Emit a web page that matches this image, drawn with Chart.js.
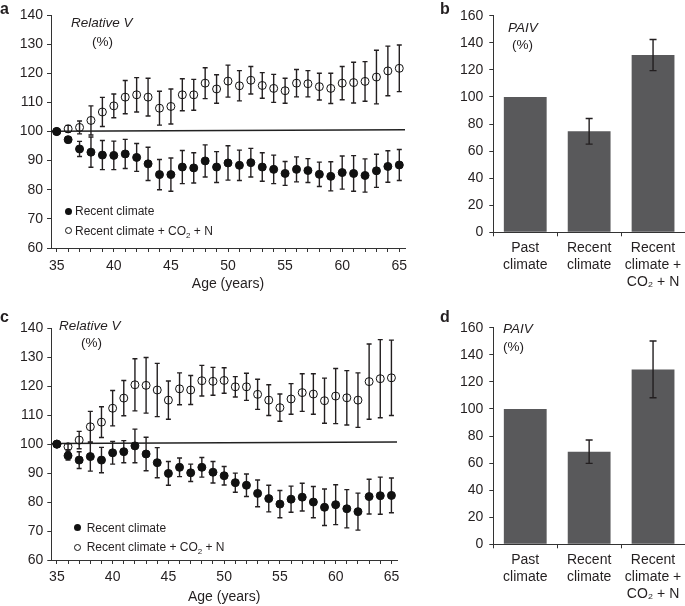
<!DOCTYPE html>
<html>
<head>
<meta charset="utf-8">
<script src="https://cdn.jsdelivr.net/npm/chart.js@4.4.1/dist/chart.umd.min.js"></script>
<style>
  body { margin: 0; background: #fff; }
  #fig { position: relative; width: 685px; height: 606px; font-family: "Liberation Sans", Arial, sans-serif; color: #231f20; overflow: hidden; background: #fff; }
  .box { position: absolute; }
  .lbl { position: absolute; line-height: 1; white-space: nowrap; }
  .panel { font-weight: bold; font-size: 16px; }
  .ital { font-style: italic; font-size: 13.5px; }
  .pct { font-size: 13.5px; }
  .leg { font-size: 12px; }
  .dot { position: absolute; width: 7px; height: 7px; border-radius: 50%; background: #111; }
  .ring { position: absolute; width: 5px; height: 5px; border-radius: 50%; border: 1px solid #111; }
  sub { font-size: 8px; line-height: 0; vertical-align: -3px; }
</style>
</head>
<body>
<div id="fig">
  <div class="box" style="left:0;top:0;width:430px;height:300px"><canvas id="chartA"></canvas></div>
  <div class="box" style="left:440px;top:0;width:245px;height:300px"><canvas id="chartB"></canvas></div>
  <div class="box" style="left:0;top:300px;width:430px;height:306px"><canvas id="chartC"></canvas></div>
  <div class="box" style="left:440px;top:300px;width:245px;height:306px"><canvas id="chartD"></canvas></div>

  <!-- panel letters -->
  <span class="lbl panel" style="left:0;top:0.5px">a</span>
  <span class="lbl panel" style="left:440px;top:0.5px">b</span>
  <span class="lbl panel" style="left:0;top:308.5px">c</span>
  <span class="lbl panel" style="left:440px;top:308.5px">d</span>

  <!-- axis titles inside the plots -->
  <span class="lbl ital" style="left:71px;top:16px">Relative V</span>
  <span class="lbl pct" style="left:92px;top:35px">(%)</span>
  <span class="lbl ital" style="left:59px;top:318.5px">Relative V</span>
  <span class="lbl pct" style="left:81px;top:336px">(%)</span>
  <span class="lbl ital" style="left:508px;top:20.5px">PAIV</span>
  <span class="lbl pct" style="left:512px;top:38px">(%)</span>
  <span class="lbl ital" style="left:503px;top:321.5px">PAIV</span>
  <span class="lbl pct" style="left:503px;top:340px">(%)</span>

  <!-- legends -->
  <span class="dot" style="left:64.8px;top:207.5px"></span>
  <span class="lbl leg" style="left:75px;top:205.4px">Recent climate</span>
  <span class="ring" style="left:64.8px;top:227.2px"></span>
  <span class="lbl leg" style="left:75px;top:225px">Recent climate + CO<sub>2</sub> + N</span>

  <span class="dot" style="left:73.8px;top:524.2px"></span>
  <span class="lbl leg" style="left:86.7px;top:522px">Recent climate</span>
  <span class="ring" style="left:73.8px;top:543.5px"></span>
  <span class="lbl leg" style="left:86.7px;top:541px">Recent climate + CO<sub>2</sub> + N</span>
</div>
<script>
// ages (years)
const ages = [35, 36, 37, 38, 39, 40, 41, 42, 43, 44, 45, 46, 47, 48, 49, 50,
              51, 52, 53, 54, 55, 56, 57, 58, 59, 60, 61, 62, 63, 64, 65];

// panel a - relative V (%)
const aRecent    = [100, 97.2, 94.0, 92.9, 91.9, 91.8, 92.3, 91.1, 88.9, 85.2, 85.2, 87.8, 87.5, 89.9, 87.8, 89.2,
                    88.4, 89.3, 87.8, 87.0, 85.6, 87.0, 86.6, 85.3, 84.6, 85.9, 85.6, 84.9, 86.5, 88.0, 88.5];
const aRecentErr = [0, 1, 2.6, 5.2, 5, 4.9, 5, 4.8, 5.7, 5.2, 5.7, 5.7, 5.2, 5.5, 5.3, 5.9,
                    5.2, 4.9, 4.9, 4.9, 4.1, 4.3, 4.1, 4.2, 5, 5.7, 6.1, 5.7, 5.7, 5.4, 5.3];
const aCo2       = [100, 100.9, 101.4, 103.8, 106.7, 108.8, 111.8, 112.6, 111.8, 108.0, 108.6, 112.6, 112.6, 116.6, 114.6, 117.3,
                    115.7, 117.6, 115.8, 114.8, 114.0, 116.6, 116.4, 115.4, 114.8, 116.6, 116.8, 117.2, 118.7, 120.8, 121.7];
const aCo2Err    = [0, 1.2, 2.2, 5, 5, 4.1, 5.7, 5.9, 6.5, 5.8, 6, 5.5, 5.3, 5.3, 4.9, 5.5,
                    5.2, 4.7, 4.4, 4.8, 4.3, 4.7, 4.5, 4.6, 5.2, 5.7, 7, 6.8, 9.2, 8.5, 8];
const aLine      = [100.1, 100.6];

// panel c - relative V (%)
const cRecent    = [100, 96.0, 94.5, 95.7, 94.5, 97.0, 97.4, 99.4, 96.6, 93.6, 89.9, 92.0, 90.1, 92.0, 90.3, 89.1,
                    86.7, 85.8, 83.0, 81.2, 79.3, 81.0, 81.7, 80.0, 78.2, 79.1, 77.7, 76.7, 81.9, 82.2, 82.3];
const cRecentErr = [0, 1.5, 2.9, 5, 4.4, 3.9, 3.8, 5.8, 5.8, 5.2, 4.1, 3.2, 3, 3.4, 3.7, 3.2,
                    3.3, 3.9, 4.6, 4.6, 4.7, 4.5, 4.8, 5.4, 6.3, 6.9, 6.6, 6.4, 6, 6.4, 6];
const cCo2       = [100, 99.1, 101.4, 106.0, 107.6, 112.4, 115.9, 120.5, 120.3, 118.7, 115.2, 119.1, 118.7, 121.9, 121.7, 122.0,
                    119.8, 119.8, 117.2, 115.2, 112.6, 115.6, 117.8, 117.3, 115.0, 116.6, 116.0, 115.2, 121.6, 122.6, 122.9];
const cCo2Err    = [0, 1, 3, 5.3, 5.3, 6.1, 6.1, 9, 9.6, 9.2, 6.6, 5.5, 5, 5.3, 4.8, 4.4,
                    3.5, 4.7, 5.2, 5.3, 4.7, 5.3, 6.5, 7, 7.8, 9.5, 9.4, 9.4, 13, 13.5, 13];
const cLine      = [100.2, 100.7];
const lineAges   = [34.5, 65.5];

// panels b, d - PAIV (%)
const barLabels = [['Past', 'climate'], ['Recent', 'climate'], ['Recent', 'climate +', 'CO\u2082 + N']];
const bValues = [100, 74.6, 130.9];
const bErr    = [0, 9.5, 11.5];
const dValues = [100, 68.4, 129.2];
const dErr    = [0, 8.6, 21];

const ink = '#231f20';
Chart.defaults.font.family = '"Liberation Sans", Arial, sans-serif';
Chart.defaults.font.size = 14;
Chart.defaults.color = ink;

// draws vertical error bars using the chart's own scales
function errorBarPlugin(hook) {
  const draw = (chart) => {
    const ctx = chart.ctx;
    const yScale = chart.scales.y;
    chart.data.datasets.forEach((ds, i) => {
      if (!ds.errors) return;
      const meta = chart.getDatasetMeta(i);
      ctx.save();
      ctx.strokeStyle = ink;
      ctx.lineWidth = 1.4;
      meta.data.forEach((el, j) => {
        const e = ds.errors[j];
        if (!e) return;
        const v = typeof ds.data[j] === 'object' ? ds.data[j].y : ds.data[j];
        const top = yScale.getPixelForValue(v + e);
        const bot = yScale.getPixelForValue(v - e);
        const cap = ds.errorCap || 2.5;
        ctx.beginPath();
        ctx.moveTo(el.x, top); ctx.lineTo(el.x, bot);
        ctx.moveTo(el.x - cap, top); ctx.lineTo(el.x + cap, top);
        ctx.moveTo(el.x - cap, bot); ctx.lineTo(el.x + cap, bot);
        ctx.stroke();
      });
      ctx.restore();
    });
  };
  return { id: 'errorBars', [hook]: draw };
}

function axisGrid() {
  return { drawOnChartArea: false, drawTicks: true, tickLength: 4, color: '#333', lineWidth: 1 };
}

function makeScatter(id, recent, recentErr, co2, co2Err, line, cfg) {
  return new Chart(document.getElementById(id), {
    type: 'scatter',
    data: {
      datasets: [
        {
          label: 'Recent climate',
          data: ages.map((a, i) => ({ x: a, y: recent[i] })),
          errors: recentErr,
          pointRadius: 4,
          backgroundColor: '#111',
          borderColor: '#111',
          borderWidth: 1
        },
        {
          label: 'Recent climate + CO2 + N',
          data: ages.map((a, i) => ({ x: a, y: co2[i] })),
          errors: co2Err,
          pointRadius: 4,
          backgroundColor: 'rgba(255,255,255,0)',
          borderColor: '#111',
          borderWidth: 1
        },
        {
          type: 'line',
          label: 'ref',
          data: lineAges.map((a, i) => ({ x: a, y: line[i] })),
          showLine: true,
          pointRadius: 0,
          borderColor: '#222',
          borderWidth: 1.5
        }
      ]
    },
    options: {
      responsive: true,
      maintainAspectRatio: false,
      animation: false,
      layout: { padding: { top: cfg.padTop, right: cfg.padRight, left: 0, bottom: 0 } },
      plugins: { legend: { display: false }, tooltip: { enabled: false } },
      scales: {
        x: {
          type: 'linear',
          min: lineAges[0],
          max: lineAges[1],
          afterFit: (s) => { s.height = cfg.xHeight; },
          // one tick per year, labels every 5 years
          afterBuildTicks: (s) => { s.ticks = ages.map((a) => ({ value: a })); },
          grid: axisGrid(),
          border: { display: true, color: '#333', width: 1 },
          ticks: {
            autoSkip: false,
            maxRotation: 0,
            padding: cfg.tickPad,
            callback: (v) => (v % 5 === 0 ? String(v) : '')
          },
          title: { display: true, text: 'Age (years)', font: { size: 14 }, padding: { top: 0, bottom: cfg.titlePad } }
        },
        y: {
          min: 60,
          max: 140,
          afterFit: (s) => { s.width = cfg.yWidth; },
          grid: axisGrid(),
          border: { display: true, color: '#333', width: 1 },
          ticks: { stepSize: 10, padding: 4 }
        }
      }
    },
    plugins: [errorBarPlugin('beforeDatasetsDraw')]
  });
}

function makeBar(id, values, errs, cfg) {
  return new Chart(document.getElementById(id), {
    type: 'bar',
    data: {
      labels: barLabels,
      datasets: [{
        label: 'PAIV',
        data: values,
        errors: errs,
        errorCap: 3.5,
        backgroundColor: '#59595b',
        barPercentage: 0.67,
        categoryPercentage: 1
      }]
    },
    options: {
      responsive: true,
      maintainAspectRatio: false,
      animation: false,
      layout: { padding: { top: cfg.padTop, right: 0, left: 0, bottom: 0 } },
      plugins: { legend: { display: false }, tooltip: { enabled: false } },
      scales: {
        x: {
          afterFit: (s) => { s.height = cfg.xHeight; },
          grid: Object.assign(axisGrid(), { offset: true }),
          border: { display: true, color: '#333', width: 1 },
          ticks: { padding: 3.5, maxRotation: 0, autoSkip: false, font: { size: 14, lineHeight: 1.2 } }
        },
        y: {
          min: 0,
          max: 160,
          afterFit: (s) => { s.width = 53.3; },
          grid: axisGrid(),
          border: { display: true, color: '#333', width: 1 },
          ticks: { stepSize: 20, padding: 6 }
        }
      }
    },
    plugins: [errorBarPlugin('afterDatasetsDraw')]
  });
}

makeScatter('chartA', aRecent, aRecentErr, aCo2, aCo2Err, aLine,
  { padTop: 15, padRight: 25, xHeight: 52, yWidth: 51, tickPad: 5.6, titlePad: 7 });
makeScatter('chartC', cRecent, cRecentErr, cCo2, cCo2Err, cLine,
  { padTop: 28.3, padRight: 33, xHeight: 46, yWidth: 51.3, tickPad: 5.1, titlePad: 0 });
makeBar('chartB', bValues, bErr, { padTop: 15.7, xHeight: 67.7 });
makeBar('chartD', dValues, dErr, { padTop: 27.7, xHeight: 61.7 });
</script>
</body>
</html>
